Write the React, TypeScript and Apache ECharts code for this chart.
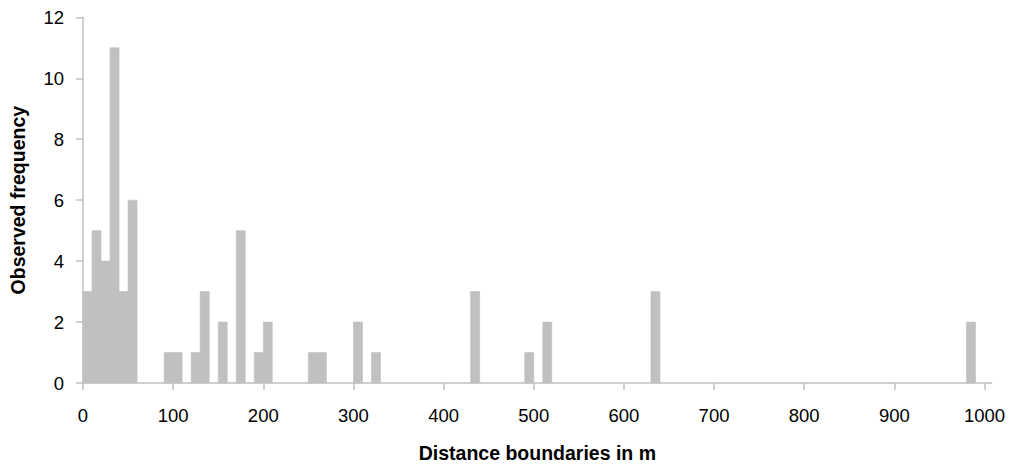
import React, { useEffect, useRef } from "react";
import * as echarts from "echarts";

// Histogram data: start of each 10 m distance bin and observed count
const binStarts = [0, 10, 20, 30, 40, 50, 90, 100, 120, 130, 150, 170, 190, 200, 250, 260, 300, 320, 430, 490, 510, 630, 980];
const counts = [3, 5, 4, 11, 3, 6, 1, 1, 1, 3, 2, 5, 1, 2, 1, 1, 2, 1, 3, 1, 2, 3, 2];
const binWidth = 10;
const xTickValues = [0, 100, 200, 300, 400, 500, 600, 700, 800, 900, 1000];
const yTickValues = [0, 2, 4, 6, 8, 10, 12];

const FONT = "'Liberation Sans', Arial, sans-serif";
const GREY = "#c0c0c0";

export default function App() {
  const ref = useRef<HTMLDivElement>(null);

  useEffect(() => {
    document.body.style.margin = "0";
    if (!ref.current) return;
    const chart = echarts.init(ref.current, undefined, { renderer: "svg" });
    const data = binStarts.map((s, i) => [s, counts[i]]);
    chart.setOption({
      animation: false,
      backgroundColor: "#ffffff",
      grid: { left: 82.7, top: 17.3, bottom: 83.7, right: 24.3, containLabel: false },
      xAxis: {
        type: "value",
        min: 0,
        max: 1008,
        name: "Distance boundaries in m",
        nameLocation: "middle",
        nameGap: 60,
        nameTextStyle: { fontFamily: FONT, fontSize: 19.5, fontWeight: "bold", color: "#000" },
        axisLine: { show: true, lineStyle: { color: GREY, width: 1.5 } },
        axisTick: { show: true, length: 7, lineStyle: { color: GREY, width: 1.5 }, customValues: xTickValues },
        axisLabel: {
          fontFamily: FONT,
          fontSize: 18.5,
          color: "#000",
          margin: 23,
          customValues: xTickValues,
          formatter: (v: number) => String(v),
        },
        splitLine: { show: false },
      },
      yAxis: {
        type: "value",
        min: 0,
        max: 12,
        interval: 2,
        name: "Observed frequency",
        nameLocation: "middle",
        nameGap: 55,
        nameTextStyle: { fontFamily: FONT, fontSize: 19.5, fontWeight: "bold", color: "#000" },
        axisLine: { show: true, lineStyle: { color: GREY, width: 1.5 } },
        axisTick: { show: true, length: 7, lineStyle: { color: GREY, width: 1.5 }, customValues: yTickValues },
        axisLabel: {
          fontFamily: FONT,
          fontSize: 18.5,
          color: "#000",
          margin: 19,
          customValues: yTickValues,
          formatter: (v: number) => String(v),
        },
        splitLine: { show: false },
      },
      series: [
        {
          type: "custom",
          data,
          z: 1,
          renderItem: (_params: any, api: any) => {
            const start = api.value(0);
            const v = api.value(1);
            const p0 = api.coord([start, 0]);
            const p1 = api.coord([start + binWidth, v]);
            return {
              type: "rect",
              shape: { x: p0[0], y: p1[1], width: p1[0] - p0[0], height: p0[1] - p1[1] },
              style: { fill: GREY, stroke: GREY, lineWidth: 0.6 },
            };
          },
        },
      ],
    });
    return () => chart.dispose();
  }, []);

  return <div ref={ref} style={{ width: 1016, height: 468 }} />;
}
